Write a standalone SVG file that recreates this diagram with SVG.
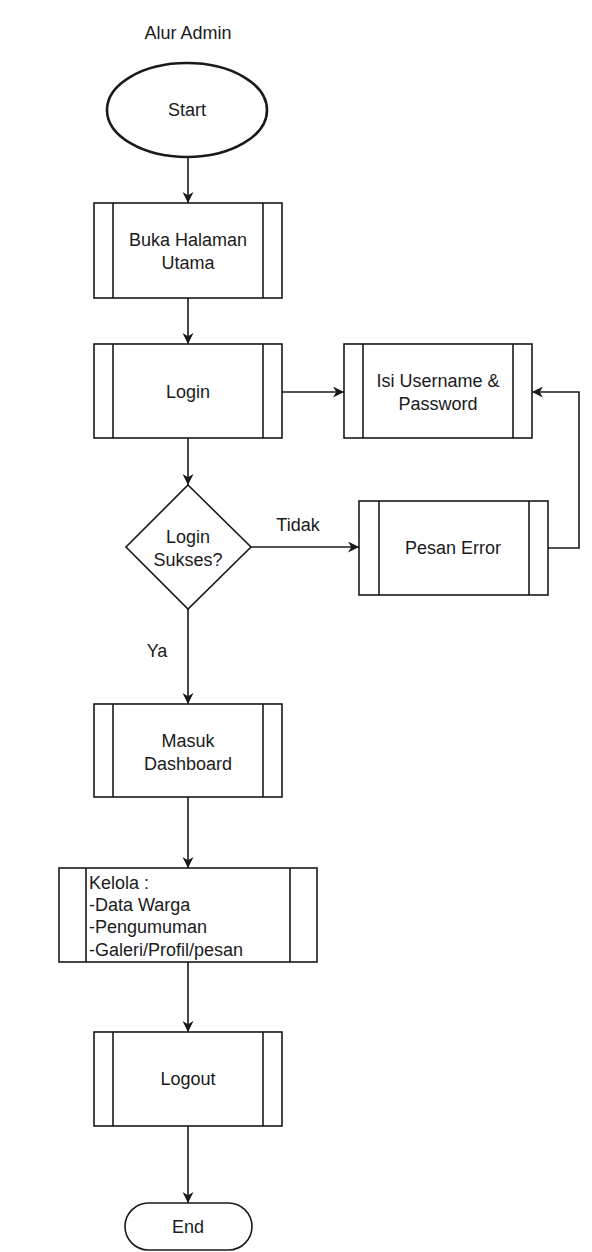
<svg xmlns="http://www.w3.org/2000/svg" width="592" height="1252" viewBox="0 0 592 1252">
<style>
  .t { font-family: "Liberation Sans", Arial, sans-serif; font-size: 18px; fill: #1a1a1a; text-anchor: middle; }
  .tl { font-family: "Liberation Sans", Arial, sans-serif; font-size: 18px; fill: #1a1a1a; }
  .b { fill: #ffffff; stroke: #1a1a1a; stroke-width: 1.6; }
  .c { fill: none; stroke: #1a1a1a; stroke-width: 1.6; }
</style>
<defs>
  <marker id="ah" viewBox="0 0 10 10" refX="10" refY="5" markerWidth="11" markerHeight="11" markerUnits="userSpaceOnUse" orient="auto">
    <path d="M0,0 L10,5 L0,10 L3,5 z" fill="#1a1a1a"/>
  </marker>
</defs>
<rect width="592" height="1252" fill="#ffffff"/>
<text class="t" x="188" y="39">Alur Admin</text>

<g id="connectors">
  <line class="c" x1="188" y1="157" x2="188" y2="203" marker-end="url(#ah)"/>
  <line class="c" x1="188" y1="298" x2="188" y2="344" marker-end="url(#ah)"/>
  <line class="c" x1="282" y1="392" x2="344" y2="392" marker-end="url(#ah)"/>
  <line class="c" x1="188" y1="438" x2="188" y2="485" marker-end="url(#ah)"/>
  <line class="c" x1="251" y1="547" x2="359" y2="547" marker-end="url(#ah)"/>
  <polyline class="c" points="548,548 579,548 579,392 532,392" marker-end="url(#ah)"/>
  <line class="c" x1="188" y1="609" x2="188" y2="704" marker-end="url(#ah)"/>
  <line class="c" x1="188" y1="797" x2="188" y2="868" marker-end="url(#ah)"/>
  <line class="c" x1="188" y1="962" x2="188" y2="1032" marker-end="url(#ah)"/>
  <line class="c" x1="188" y1="1126" x2="188" y2="1203" marker-end="url(#ah)"/>
  <text class="t" x="298" y="531">Tidak</text>
  <text class="t" x="157" y="657">Ya</text>
</g>

<g id="start">
  <ellipse cx="187" cy="110" rx="80" ry="47" fill="#ffffff" stroke="#1a1a1a" stroke-width="2.6"/>
  <text class="t" x="187" y="116">Start</text>
</g>

<g id="buka">
  <rect class="b" x="94" y="203" width="188" height="95"/>
  <line class="c" x1="113" y1="203" x2="113" y2="298"/>
  <line class="c" x1="263" y1="203" x2="263" y2="298"/>
  <text class="t" x="188" y="246">Buka Halaman</text>
  <text class="t" x="188" y="269">Utama</text>
</g>

<g id="login">
  <rect class="b" x="94" y="344" width="188" height="94"/>
  <line class="c" x1="113" y1="344" x2="113" y2="438"/>
  <line class="c" x1="263" y1="344" x2="263" y2="438"/>
  <text class="t" x="188" y="398">Login</text>
</g>

<g id="isi">
  <rect class="b" x="344" y="344" width="188" height="94"/>
  <line class="c" x1="363" y1="344" x2="363" y2="438"/>
  <line class="c" x1="513" y1="344" x2="513" y2="438"/>
  <text class="t" x="438" y="387">Isi Username &amp;</text>
  <text class="t" x="438" y="410">Password</text>
</g>

<g id="decision">
  <polygon class="b" points="188,485 251,547 188,609 126,547"/>
  <text class="t" x="188" y="543">Login</text>
  <text class="t" x="188" y="566">Sukses?</text>
</g>

<g id="error">
  <rect class="b" x="359" y="501" width="189" height="94"/>
  <line class="c" x1="379" y1="501" x2="379" y2="595"/>
  <line class="c" x1="529" y1="501" x2="529" y2="595"/>
  <text class="t" x="453" y="554">Pesan Error</text>
</g>

<g id="dashboard">
  <rect class="b" x="94" y="704" width="188" height="93"/>
  <line class="c" x1="113" y1="704" x2="113" y2="797"/>
  <line class="c" x1="263" y1="704" x2="263" y2="797"/>
  <text class="t" x="188" y="747">Masuk</text>
  <text class="t" x="188" y="770">Dashboard</text>
</g>

<g id="kelola">
  <rect class="b" x="59" y="868" width="258" height="94"/>
  <line class="c" x1="86" y1="868" x2="86" y2="962"/>
  <line class="c" x1="290" y1="868" x2="290" y2="962"/>
  <text class="tl" x="89" y="889">Kelola :</text>
  <text class="tl" x="89" y="911">-Data Warga</text>
  <text class="tl" x="89" y="933">-Pengumuman</text>
  <text class="tl" x="89" y="956">-Galeri/Profil/pesan</text>
</g>

<g id="logout">
  <rect class="b" x="94" y="1032" width="188" height="94"/>
  <line class="c" x1="113" y1="1032" x2="113" y2="1126"/>
  <line class="c" x1="263" y1="1032" x2="263" y2="1126"/>
  <text class="t" x="188" y="1085">Logout</text>
</g>

<g id="end">
  <rect class="b" x="125" y="1203" width="127" height="47" rx="23.5" ry="23.5"/>
  <text class="t" x="188" y="1233">End</text>
</g>
</svg>
